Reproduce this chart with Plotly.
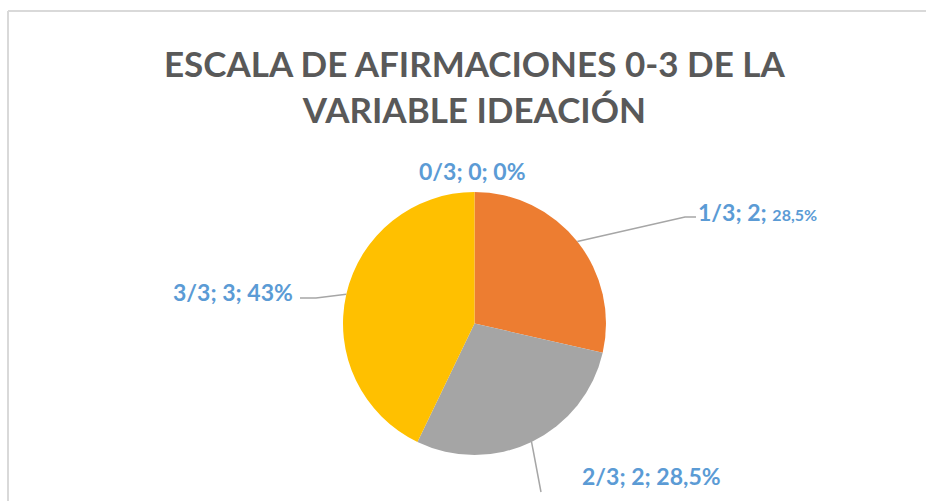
import math
import plotly.graph_objects as go

# ---- data ----
categories = ["0/3", "1/3", "2/3", "3/3"]
values = [0, 2, 2, 3]
pct_labels = ["0%", "28,5%", "28,5%", "43%"]
colors = ["#5B9BD5", "#ED7D31", "#A5A5A5", "#FFC000"]
title_text = "ESCALA DE AFIRMACIONES 0-3 DE LA<br>VARIABLE IDEACIÓN"

W, H = 926, 501
FONT = "Lato, 'Open Sans', sans-serif"
LABEL_COLOR = "#5B9BD5"

# pie placement (pixels)
cx, cy, R = 474.5, 323.5, 131.5


def px(x):
    return x / W


def py(y):
    return 1 - y / H


fig = go.Figure(go.Pie(
    labels=categories,
    values=values,
    sort=False,
    direction="clockwise",
    rotation=0,
    marker=dict(colors=colors, line=dict(width=0)),
    textinfo="none",
    hoverinfo="skip",
    showlegend=False,
    domain=dict(x=[px(cx - R), px(cx + R)], y=[py(cy + R), py(cy - R)]),
))

# label texts built from data
texts = []
for i, (c, v, p) in enumerate(zip(categories, values, pct_labels)):
    if i == 1:
        texts.append(f"<b>{c}; {v}; <span style='font-size:16px'>{p}</span></b>")
    else:
        texts.append(f"<b>{c}; {v}; {p}</b>")

# label placement (pixels)
label_x = [472, 696, 580, 295]
label_y = [171, 212, 476, 292]
label_anchor = ["center", "left", "left", "right"]

# mid-angle of each slice, computed from the data
total = sum(values)
cum = 0
mids = []
for v in values:
    mids.append((cum + v / 2) / total * 2 * math.pi)
    cum += v

annotations = [dict(
    text="<b>" + title_text.replace("<br>", "</b><br><b>") + "</b>",
    x=px(475), y=py(86), xref="paper", yref="paper",
    xanchor="center", yanchor="middle", showarrow=False,
    font=dict(family=FONT, size=35, color="#595959"),
)]
for i, t in enumerate(texts):
    annotations.append(dict(
        text=t, x=px(label_x[i]), y=py(label_y[i]),
        xref="paper", yref="paper", xanchor=label_anchor[i], yanchor="middle",
        showarrow=False, font=dict(family=FONT, size=23, color=LABEL_COLOR),
    ))

shapes = []
# leader lines from slice edge midpoints
elbows = {1: [(685, 217), (696, 217)], 2: [(541, 492)], 3: [(316, 298), (300, 298)]}
for i, pts in elbows.items():
    a = mids[i]
    ex = cx + R * math.sin(a)
    ey = cy - R * math.cos(a)
    path = f"M {px(ex)} {py(ey)} " + " ".join(f"L {px(x)} {py(y)}" for x, y in pts)
    shapes.append(dict(type="path", xref="paper", yref="paper", path=path,
                       line=dict(color="#A6A6A6", width=1.5)))

# chart-area border
shapes.append(dict(type="line", xref="paper", yref="paper", x0=px(8), x1=px(8), y0=py(11), y1=py(H + 5),
                   line=dict(color="#D9D9D9", width=2)))
shapes.append(dict(type="line", xref="paper", yref="paper", x0=px(8), x1=px(W + 5), y0=py(11), y1=py(11),
                   line=dict(color="#D9D9D9", width=2)))

fig.update_layout(
    width=W, height=H,
    margin=dict(l=0, r=0, t=0, b=0),
    paper_bgcolor="white", plot_bgcolor="white",
    annotations=annotations,
    shapes=shapes,
)

fig.write_html("out.html", config={"displayModeBar": False},
               post_script="document.body.style.margin='0';document.body.style.overflow='hidden';")
